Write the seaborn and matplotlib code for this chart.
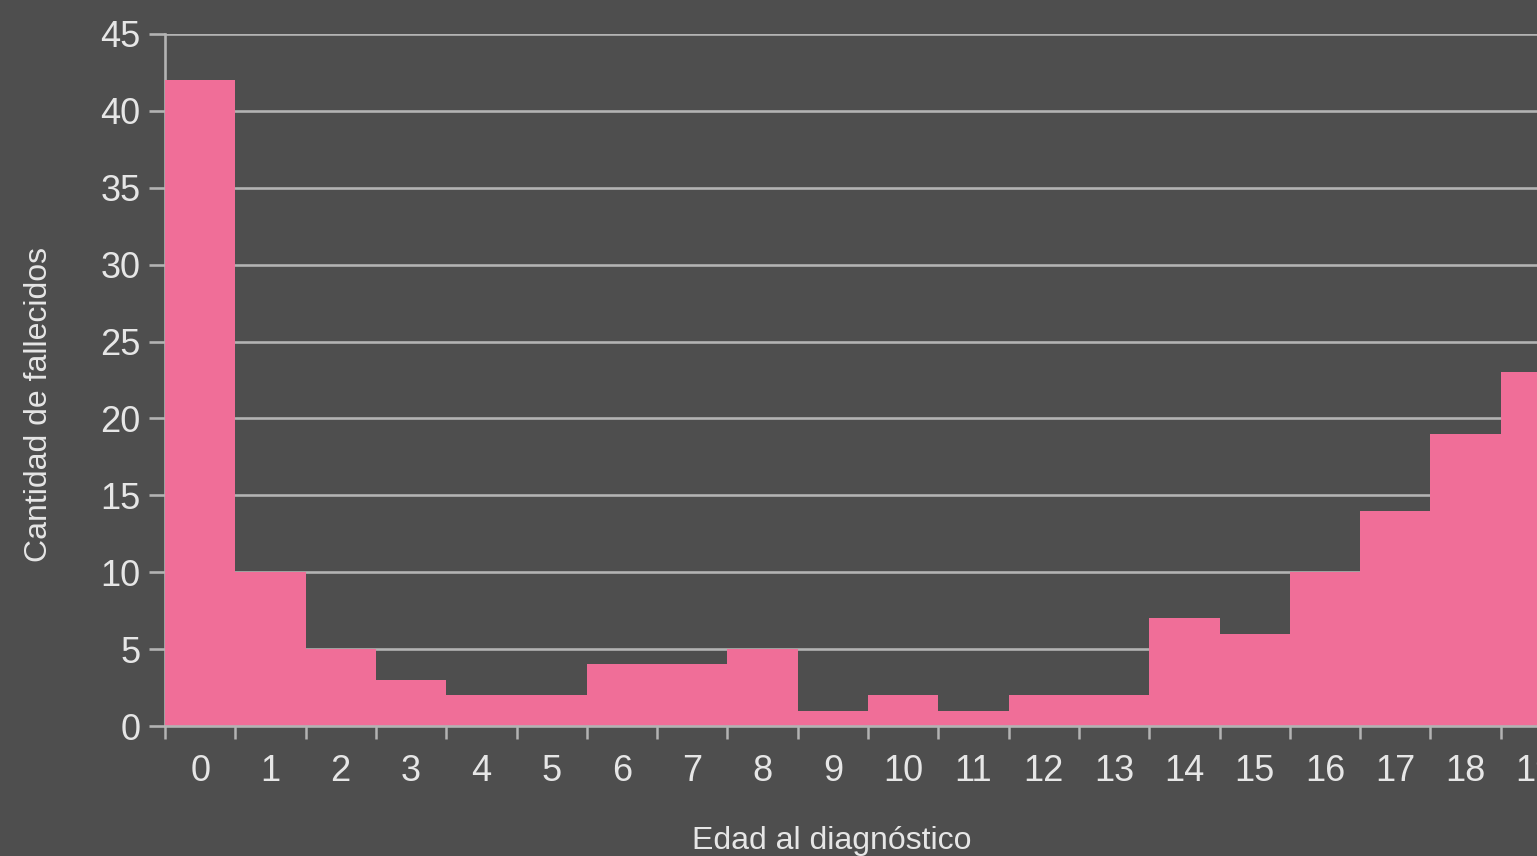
"""Deaths by age at diagnosis: bar chart on a dark background."""

import matplotlib.pyplot as plt
import pandas as pd
import seaborn as sns
from matplotlib.ticker import FixedLocator

ages = [str(a) for a in range(20)]
deaths = [42, 10, 5, 3, 2, 2, 4, 4, 5, 1, 2, 1, 2, 2, 7, 6, 10, 14, 19, 23]

BG = "#4e4e4e"
PINK = "#f06e98"
GRID = "#b3b3b3"
TEXT = "#e6e6e6"

df = pd.DataFrame({"edad": ages, "fallecidos": deaths})

sns.set_theme(style="dark")
plt.rcParams["font.family"] = ["Liberation Sans", "DejaVu Sans"]

fig = plt.figure(figsize=(15.37, 8.56), dpi=100, facecolor=BG)
# axes runs past the right edge, as in the cropped original
ax = fig.add_axes([165 / 1537, 1 - 726 / 856, 1406 / 1537, 692 / 856])
ax.set_facecolor(BG)

sns.barplot(data=df, x="edad", y="fallecidos", color=PINK, width=1.0,
            saturation=1, linewidth=0, edgecolor=PINK, ax=ax)

ax.set_xlim(-0.5, 19.5)
ax.set_ylim(0, 45)
ax.set_yticks(range(0, 46, 5))

# tick marks sit on the bar edges, labels at bar centres
ax.xaxis.set_minor_locator(FixedLocator([i - 0.5 for i in range(21)]))
ax.tick_params(axis="x", which="major", length=0, pad=20, labelsize=26,
               labelcolor=TEXT)
ax.tick_params(axis="x", which="minor", length=9, width=1.8, color=GRID,
               bottom=True)
ax.tick_params(axis="y", length=11.5, width=1.9, color=GRID, pad=6,
               labelsize=26, labelcolor=TEXT, left=True)

ax.set_axisbelow(True)
ax.grid(axis="y", color=GRID, linewidth=1.9)
ax.grid(axis="x", visible=False)

for side in ["top", "right"]:
    ax.spines[side].set_visible(False)
ax.spines["left"].set_color(GRID)
ax.spines["left"].set_linewidth(1.9)
ax.spines["left"].set_zorder(0.6)
ax.spines["bottom"].set_color(GRID)
ax.spines["bottom"].set_linewidth(1.9)
ax.spines["bottom"].set_zorder(3)

ax.set_xlabel("Edad al diagnóstico", fontsize=23, color=TEXT)
ax.set_ylabel("Cantidad de fallecidos", fontsize=23, color=TEXT)
ax.xaxis.set_label_coords((832 - 165) / 1406, -(826 - 726) / 692)
ax.yaxis.set_label_coords(-(165 - 54) / 1406, (726 - 405) / 692)

plt.savefig("out.png", dpi=100, facecolor=BG)
print("Saved out.png")
